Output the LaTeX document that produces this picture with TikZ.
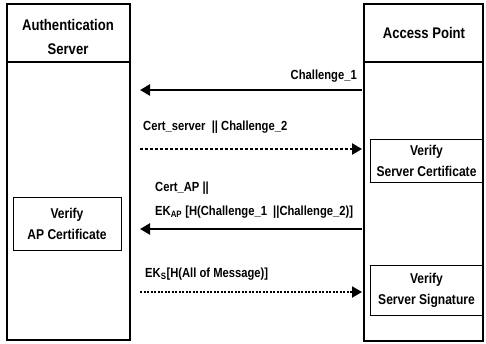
\documentclass[tikz,border=0pt]{standalone}
\usepackage{fontspec}
\setmainfont{Liberation Sans}[FakeStretch=0.85]
\usetikzlibrary{arrows.meta}

\begin{document}
\begin{tikzpicture}[x=1pt,y=-1pt,
	head/.style={font=\fontsize{15.4}{24}\selectfont\bfseries,align=center},
	stepbox/.style={draw,line width=1pt,font=\fontsize{14.2}{21}\selectfont\bfseries,align=center,inner sep=0pt},
	lbl/.style={font=\fontsize{13.2}{24}\selectfont\bfseries,inner sep=0pt},
	msg/.style={line width=2.5pt,-{Triangle[length=10pt,width=11pt]}},
	dotmsg/.style={msg,dash pattern=on 3pt off 2pt}]
	\useasboundingbox (0,0) rectangle (486,343);

	\draw[line width=1.3pt] (7,4) rectangle (130,340);
	\draw[line width=1.3pt] (7,62) -- (130,62);
	\node[head] (as) at (68,37) {Authentication\\Server};

	\draw[line width=1.3pt] (364,4) rectangle (483,341);
	\draw[line width=1.3pt] (364,62) -- (483,62);
	\node[head] (ap) at (424,33) {Access Point};

	\node[stepbox,minimum width=108,minimum height=53] (apcert) at (67,223.5) {Verify\\AP Certificate};
	\node[stepbox,minimum width=113,minimum height=43] (srvcert) at (426.5,160.5) {Verify\\Server Certificate};
	\node[stepbox,minimum width=113,minimum height=50] (srvsig) at (426.5,290) {Verify\\Server Signature};

	\coordinate (as1) at (140,90);  \coordinate (ap1) at (362,90);
	\coordinate (as2) at (140,149); \coordinate (ap2) at (362,149);
	\coordinate (as3) at (140,229); \coordinate (ap3) at (362,229);
	\coordinate (as4) at (140,292); \coordinate (ap4) at (362,292);

	\draw[msg] (ap1) -- (as1);
	\node[lbl,anchor=east] (m1) at (357,76) {Challenge\_1};

	\draw[dotmsg] (as2) -- (ap2);
	\node[lbl,anchor=west] (m2) at (143,127) {Cert\_server \ || Challenge\_2};

	\draw[msg] (ap3) -- (as3);
	\node[lbl,anchor=west,align=left] (m3) at (155,200) {Cert\_AP ||\\EK\textsubscript{AP} [H(Challenge\_1 \ ||Challenge\_2)]};

	\draw[dotmsg,line width=2pt,dash pattern=on 2pt off 1.5pt] (as4) -- (ap4);
	\node[lbl,anchor=west] (m4) at (145,274) {EK\textsubscript{S}[H(All of Message)]};
\end{tikzpicture}
\end{document}
